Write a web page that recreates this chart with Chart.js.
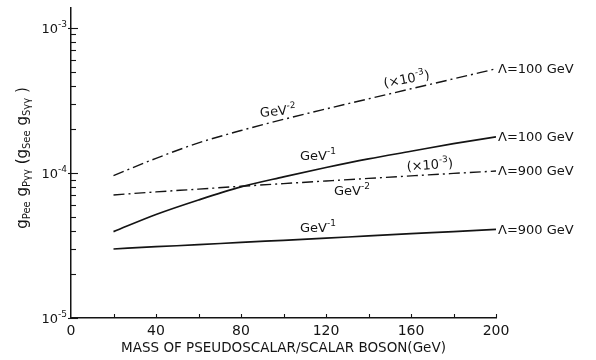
<!DOCTYPE html>
<html>
<head>
<meta charset="utf-8">
<script src="https://cdn.jsdelivr.net/npm/chart.js@4.4.0/dist/chart.umd.min.js"></script>
<style>
  html, body { margin: 0; padding: 0; background: #fff; }
  #wrap { width: 596px; height: 360px; }
</style>
</head>
<body>
<div id="wrap"><canvas id="chart" width="596" height="360"></canvas></div>
<script>
// Coupling products vs. pseudoscalar/scalar boson mass

// boson mass (GeV) where the curves were read
const masses = [20, 40, 60, 80, 100, 120, 140, 160, 180, 200];

// Lambda = 100 GeV, GeV^-2 (x 10^-3)
const lam100Inv2 = [9.58e-5, 1.26e-4, 1.61e-4, 1.96e-4, 2.34e-4, 2.76e-4, 3.24e-4, 3.80e-4, 4.45e-4, 5.22e-4];
// Lambda = 100 GeV, GeV^-1
const lam100Inv1 = [3.94e-5, 5.17e-5, 6.51e-5, 8.01e-5, 9.39e-5, 1.09e-4, 1.25e-4, 1.41e-4, 1.59e-4, 1.77e-4];
// Lambda = 900 GeV, GeV^-2 (x 10^-3)
const lam900Inv2 = [7.05e-5, 7.40e-5, 7.73e-5, 8.09e-5, 8.44e-5, 8.80e-5, 9.17e-5, 9.54e-5, 9.92e-5, 1.03e-4];
// Lambda = 900 GeV, GeV^-1
const lam900Inv1 = [2.99e-5, 3.10e-5, 3.20e-5, 3.32e-5, 3.43e-5, 3.55e-5, 3.68e-5, 3.81e-5, 3.94e-5, 4.08e-5];

// axis ticks
const xTickValues = [0, 20, 40, 60, 80, 100, 120, 140, 160, 180, 200];
const xTickLabels = ['0', '', '40', '', '80', '', '120', '', '160', '', '200'];
const yDecades = [1e-5, 1e-4, 1e-3];
const yDecadeExps = ['-5', '-4', '-3'];
const yMinorTicks = [2e-5, 3e-5, 4e-5, 5e-5, 6e-5, 7e-5, 8e-5, 9e-5,
                     2e-4, 3e-4, 4e-4, 5e-4, 6e-4, 7e-4, 8e-4, 9e-4];

const ink = '#141414';
const FONT = '"DejaVu Sans", sans-serif';
const dashDot = [11, 4, 2, 4];

// text labels placed in data space: [parts, mass, value, rotation(deg)]
const curveNotes = [
    [[['GeV', 0], ['-2', 1]], 97.4, 2.63e-4, -5],
    [[['(\u00d710', 0], ['-3', 1], [')', 0]], 158, 4.38e-4, -11],
    [[['GeV', 0], ['-1', 1]], 116.2, 1.29e-4, 0],
    [[['(\u00d710', 0], ['-3', 1], [')', 0]], 168.9, 1.12e-4, -4],
    [[['GeV', 0], ['-2', 1]], 132.2, 7.39e-5, 0],
    [[['GeV', 0], ['-1', 1]], 116.2, 4.11e-5, 0]
];
const endLabels = ['\u039b=100 GeV', '\u039b=100 GeV', '\u039b=900 GeV', '\u039b=900 GeV'];

function pts(arr) {
    return masses.map((m, i) => ({ x: m, y: arr[i] }));
}

// rich text: kind 0 normal, 1 superscript, -1 subscript
function partFont(kind, base, small) {
    return (kind === 0 ? base : small) + 'px ' + FONT;
}
function richWidth(ctx, parts, base, small) {
    let w = 0;
    parts.forEach(p => { ctx.font = partFont(p[1], base, small); w += ctx.measureText(p[0]).width; });
    return w;
}
function drawRich(ctx, parts, x, y, base, small, align) {
    let w = richWidth(ctx, parts, base, small);
    let cx = align === 'center' ? x - w / 2 : (align === 'right' ? x - w : x);
    ctx.textAlign = 'left';
    ctx.textBaseline = 'middle';
    parts.forEach(p => {
        ctx.font = partFont(p[1], base, small);
        let dy = p[1] === 1 ? -base * 0.38 : (p[1] === -1 ? base * 0.3 : 0);
        ctx.fillText(p[0], cx, y + dy);
        cx += ctx.measureText(p[0]).width;
    });
}

const sketchPlugin = {
    id: 'sketch',
    afterDraw(chart) {
        const ctx = chart.ctx;
        const xs = chart.scales.x, ys = chart.scales.y;
        const area = chart.chartArea;
        ctx.save();
        ctx.strokeStyle = ink;
        ctx.fillStyle = ink;
        ctx.lineWidth = 1.1;

        // y tick marks, inside the plot
        yDecades.forEach(v => {
            let py = Math.round(ys.getPixelForValue(v)) + 0.5;
            ctx.beginPath(); ctx.moveTo(area.left - 3, py); ctx.lineTo(area.left + 7, py); ctx.stroke();
        });
        yMinorTicks.forEach(v => {
            let py = Math.round(ys.getPixelForValue(v)) + 0.5;
            ctx.beginPath(); ctx.moveTo(area.left, py); ctx.lineTo(area.left + 5, py); ctx.stroke();
        });
        // x tick marks, inside the plot
        xTickValues.forEach(v => {
            if (v === 0) return;
            let px = Math.round(xs.getPixelForValue(v)) + 0.5;
            ctx.beginPath(); ctx.moveTo(px, area.bottom); ctx.lineTo(px, area.bottom - 4); ctx.stroke();
        });

        // y decade labels with superscripts
        yDecades.forEach((v, i) => {
            drawRich(ctx, [['10', 0], [yDecadeExps[i], 1]], area.left - 4, ys.getPixelForValue(v) + 2, 13, 9, 'right');
        });

        // y axis title, rotated, with subscripts
        ctx.save();
        ctx.translate(23, 158);
        ctx.rotate(-Math.PI / 2);
        drawRich(ctx, [['g', 0], ['Pee', -1], [' g', 0], ['P\u03b3\u03b3', -1], [' (', 0],
                       ['g', 0], ['See', -1], [' g', 0], ['S\u03b3\u03b3', -1], [' )', 0]],
                 0, 0, 15, 10, 'center');
        ctx.restore();

        // labels along the curves
        curveNotes.forEach(n => {
            let px = xs.getPixelForValue(n[1]);
            let py = ys.getPixelForValue(n[2]);
            ctx.save();
            ctx.translate(px, py);
            ctx.rotate(n[3] * Math.PI / 180);
            drawRich(ctx, n[0], 0, 0, 13, 9, 'center');
            ctx.restore();
        });

        // lambda labels at the right end of each curve
        chart.data.datasets.forEach((ds, i) => {
            let last = ds.data[ds.data.length - 1];
            ctx.font = '13px ' + FONT;
            ctx.textAlign = 'left';
            ctx.textBaseline = 'middle';
            ctx.fillText(endLabels[i], xs.getPixelForValue(last.x) + 2, ys.getPixelForValue(last.y) + 1);
        });
        ctx.restore();
    }
};

function lineSet(arr, dashed) {
    return {
        data: pts(arr),
        borderColor: ink,
        borderWidth: dashed ? 1.4 : 1.7,
        borderDash: dashed ? dashDot : [],
        pointRadius: 0,
        cubicInterpolationMode: 'monotone',
        fill: false
    };
}

new Chart(document.getElementById('chart'), {
    type: 'line',
    data: {
        datasets: [
            lineSet(lam100Inv2, true),
            lineSet(lam100Inv1, false),
            lineSet(lam900Inv2, true),
            lineSet(lam900Inv1, false)
        ]
    },
    options: {
        responsive: false,
        animation: false,
        layout: { padding: { top: 8, right: 100, left: 0, bottom: 0 } },
        plugins: { legend: { display: false }, tooltip: { enabled: false } },
        scales: {
            x: {
                type: 'linear',
                min: 0,
                max: 200,
                afterBuildTicks: s => { s.ticks = xTickValues.map(v => ({ value: v })); },
                afterFit: s => { s.height = 42; },
                grid: { display: false, drawTicks: false },
                border: { display: true, color: ink, width: 1.5 },
                ticks: {
                    color: ink,
                    padding: 5,
                    maxRotation: 0,
                    autoSkip: false,
                    font: { family: FONT, size: 14 },
                    callback: (v, i) => xTickLabels[i]
                },
                title: {
                    display: true,
                    text: 'MASS OF PSEUDOSCALAR/SCALAR BOSON(GeV)',
                    color: ink,
                    font: { family: FONT, size: 13.5 },
                    padding: { top: 0, bottom: 3 }
                }
            },
            y: {
                type: 'logarithmic',
                min: 1e-5,
                max: 1.37e-3,
                afterFit: s => { s.width = 71; },
                grid: { display: false, drawTicks: false },
                border: { display: true, color: ink, width: 1.5 },
                ticks: { display: false }
            }
        }
    },
    plugins: [sketchPlugin]
});
</script>
</body>
</html>
